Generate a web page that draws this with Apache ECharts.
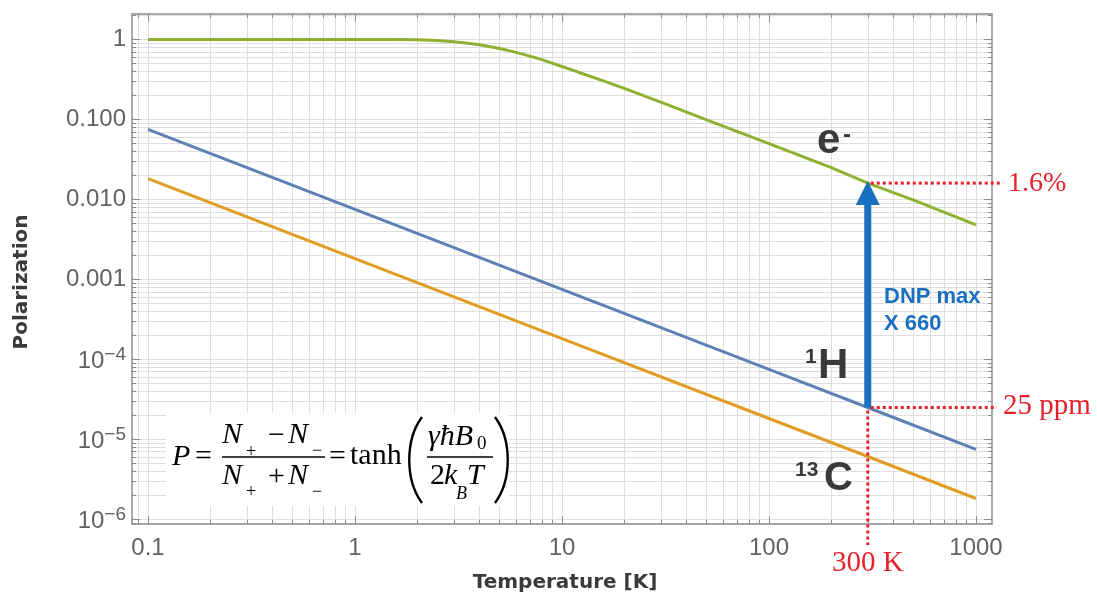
<!DOCTYPE html>
<html>
<head>
<meta charset="utf-8">
<script src="https://cdn.jsdelivr.net/npm/echarts@6/dist/echarts.min.js"></script>
<style>
  html, body { margin: 0; padding: 0; background: #fff; }
  #chart { width: 1097px; height: 603px; }
</style>
</head>
<body>
<div id="chart"></div>
<script>
// Spin polarization vs temperature (log-log), values read as (T [K], P)
const electronT = [0.1, 1, 1.5, 2, 2.5, 3, 3.5, 4, 5, 6, 7, 8, 10, 12, 15, 20, 30, 50, 100, 200, 300, 500, 1000];
const electronP = [1, 1, 0.998, 0.99, 0.97, 0.94, 0.9, 0.86, 0.77, 0.69, 0.62, 0.56, 0.46, 0.39, 0.32, 0.245, 0.165, 0.099, 0.05, 0.025, 0.016, 0.0098, 0.0048];

const protonT = [0.1, 1, 10, 100, 300, 1000];
const protonP = [0.075, 0.0075, 0.00075, 0.000075, 0.000025, 0.0000075];

const carbonT = [0.1, 1, 10, 100, 300, 1000];
const carbonP = [0.0182, 0.00182, 0.000182, 0.0000182, 0.0000061, 0.00000182];

// Axis ticks
const xTickValues = [0.1, 1, 10, 100, 1000];
const xTickLabels = ['0.1', '1', '10', '100', '1000'];
const yTickValues = [1, 0.1, 0.01, 0.001, 1e-4, 1e-5, 1e-6];
const yTickLabels = ['1', '0.100', '0.010', '0.001', '10|−4', '10|−5', '10|−6'];

// Annotated operating point
const roomT = 300;
const electronRoom = 0.016;   // 1.6%
const protonRoom = 25e-6;     // 25 ppm

const LOG = Math.log10;
const X_MIN = -1.0773, X_MAX = 3.0773;
const Y_MIN = -6.059, Y_MAX = 0.319;

function decades(lo, hi, min, max) {
  const out = [];
  for (let n = lo; n <= hi; n++) {
    for (let k = 1; k <= 9; k++) {
      const v = n + LOG(k);
      if (v >= min && v <= max) out.push(v);
    }
  }
  return out;
}
const xAll = decades(-2, 3, X_MIN, X_MAX);
const yAll = decades(-7, 0, Y_MIN, Y_MAX);
const xMajor = xTickValues.map(LOG);
const yMajor = yTickValues.map(LOG);

function pairs(ts, ps) { return ts.map((t, i) => [LOG(t), LOG(ps[i])]); }

const FRAME = '#8c8c8c';
const TICK = '#8c8c8c';
const GRIDC = '#dedede';
const LABELC = '#626262';
const SANS = 'Liberation Sans, Arial, sans-serif';
const SERIF = 'Liberation Serif, Times New Roman, serif';

function xAxisDef(pos, vals, len, withLine, withLabels, withSplit) {
  return {
    type: 'value', min: X_MIN, max: X_MAX, position: pos,
    axisLine: { show: withLine, onZero: false, lineStyle: { color: FRAME, width: 1.5 } },
    axisTick: { show: true, inside: true, length: len, customValues: vals, lineStyle: { color: TICK, width: 1 } },
    axisLabel: withLabels ? {
      show: true, customValues: xMajor, margin: 12, color: LABELC, fontSize: 24, fontFamily: SANS,
      formatter: v => xTickLabels[xMajor.findIndex(m => Math.abs(m - v) < 1e-6)]
    } : { show: false },
    splitLine: { show: withSplit, lineStyle: { color: GRIDC, width: 1 } }
  };
}
function yAxisDef(pos, vals, len, withLine, withLabels, withSplit) {
  return {
    type: 'value', min: Y_MIN, max: Y_MAX, position: pos,
    axisLine: { show: withLine, onZero: false, lineStyle: { color: FRAME, width: 1.5 } },
    axisTick: { show: true, inside: true, length: len, customValues: vals, lineStyle: { color: TICK, width: 1 } },
    axisLabel: withLabels ? {
      show: true, customValues: yMajor, margin: 6, color: LABELC, fontSize: 24, fontFamily: SANS,
      formatter: v => {
        const s = yTickLabels[yMajor.findIndex(m => Math.abs(m - v) < 1e-6)];
        if (s.indexOf('|') < 0) return s;
        const p = s.split('|');
        return '{b|' + p[0] + '}{s|' + p[1] + '}';
      },
      rich: {
        b: { fontSize: 24, color: LABELC, fontFamily: SANS, verticalAlign: 'bottom' },
        s: { fontSize: 19, color: LABELC, fontFamily: SANS, verticalAlign: 'bottom', padding: [0, 0, 10, 0] }
      }
    } : { show: false },
    splitLine: { show: withSplit, lineStyle: { color: GRIDC, width: 1 } }
  };
}

const chart = echarts.init(document.getElementById('chart'), null, { renderer: 'canvas' });

chart.setOption({
  animation: false,
  backgroundColor: '#fff',
  grid: { left: 132, right: 105, top: 14, bottom: 79, containLabel: false },
  xAxis: [
    xAxisDef('bottom', xAll, 4, true, true, true),
    xAxisDef('bottom', xMajor, 8, false, false, false),
    xAxisDef('top', xAll, 4, true, false, false),
    xAxisDef('top', xMajor, 8, false, false, false)
  ],
  yAxis: [
    yAxisDef('left', yAll, 4, true, true, true),
    yAxisDef('left', yMajor, 8, false, false, false),
    yAxisDef('right', yAll, 4, true, false, false),
    yAxisDef('right', yMajor, 8, false, false, false)
  ],
  series: [
    { name: 'e-', type: 'line', data: pairs(electronT, electronP), showSymbol: false,
      lineStyle: { color: '#8FB032', width: 3 }, z: 3 },
    { name: '1H', type: 'line', data: pairs(protonT, protonP), showSymbol: false,
      lineStyle: { color: '#5E81B5', width: 3 }, z: 3 },
    { name: '13C', type: 'line', data: pairs(carbonT, carbonP), showSymbol: false,
      lineStyle: { color: '#E19C24', width: 3 }, z: 3 }
  ]
});

// Pixel position of a (T, P) point through the chart's axes
function px(T, P) { return chart.convertToPixel({ gridIndex: 0 }, [LOG(T), LOG(P)]); }

const tip = px(roomT, electronRoom);
const base = px(roomT, protonRoom);
const plotRight = chart.getWidth() - 105;
const plotBottom = chart.getHeight() - 79;

const RED = '#e8202a';
const BLUE = '#1a6fbf';
const DARK = '#3a3a3a';

function t(text, x, y, opts) {
  return Object.assign({
    type: 'text', x: x, y: y, z: 20,
    style: Object.assign({ text: text, fill: '#000', font: '30px ' + SERIF, align: 'left', verticalAlign: 'middle' }, opts || {})
  });
}

const graphics = [];

// Formula panel
graphics.push({ type: 'rect', z: 10, shape: { x: 166, y: 413, width: 343, height: 93 }, style: { fill: '#fff' } });
graphics.push(t('P', 172, 457, { font: 'italic 30px ' + SERIF }));
graphics.push(t('=', 195, 457, { font: '30px ' + SERIF }));
graphics.push({ type: 'line', z: 20, shape: { x1: 222, y1: 457, x2: 325, y2: 457 }, style: { stroke: '#000', lineWidth: 1.4 } });
graphics.push(t('N', 222, 435, { font: 'italic 30px ' + SERIF }));
graphics.push(t('+', 246, 452, { font: '18px ' + SERIF }));
graphics.push(t('−', 268, 436, { font: '30px ' + SERIF }));
graphics.push(t('N', 288, 435, { font: 'italic 30px ' + SERIF }));
graphics.push(t('−', 312, 451, { font: '18px ' + SERIF }));
graphics.push(t('N', 222, 476, { font: 'italic 30px ' + SERIF }));
graphics.push(t('+', 246, 492, { font: '18px ' + SERIF }));
graphics.push(t('+', 268, 477, { font: '30px ' + SERIF }));
graphics.push(t('N', 288, 476, { font: 'italic 30px ' + SERIF }));
graphics.push(t('−', 312, 492, { font: '18px ' + SERIF }));
graphics.push(t('=', 329, 457, { font: '30px ' + SERIF }));
graphics.push(t('tanh', 350, 456, { font: '30px ' + SERIF }));
graphics.push({ type: 'bezierCurve', z: 20, shape: { x1: 422, y1: 417, cpx1: 405, cpy1: 440, cpx2: 405, cpy2: 480, x2: 422, y2: 503 },
  style: { stroke: '#000', lineWidth: 2.4, fill: null } });
graphics.push(t('γħB', 428, 437, { font: 'italic 30px ' + SERIF }));
graphics.push(t('0', 477, 444, { font: '19px ' + SERIF }));
graphics.push({ type: 'line', z: 20, shape: { x1: 427, y1: 457, x2: 493, y2: 457 }, style: { stroke: '#000', lineWidth: 1.4 } });
graphics.push(t('2', 430, 476, { font: '30px ' + SERIF }));
graphics.push(t('k', 444, 476, { font: 'italic 30px ' + SERIF }));
graphics.push(t('B', 456, 494, { font: 'italic 18px ' + SERIF }));
graphics.push(t('T', 467, 476, { font: 'italic 30px ' + SERIF }));
graphics.push({ type: 'bezierCurve', z: 20, shape: { x1: 495, y1: 417, cpx1: 512, cpy1: 440, cpx2: 512, cpy2: 480, x2: 495, y2: 503 },
  style: { stroke: '#000', lineWidth: 2.4, fill: null } });

// Reference lines at room temperature
const dotted = { stroke: RED, lineWidth: 3, lineDash: [3, 3] };
graphics.push({ type: 'line', z: 9, shape: { x1: tip[0] + 3, y1: tip[1], x2: plotRight + 11, y2: tip[1] }, style: dotted });
graphics.push({ type: 'line', z: 9, shape: { x1: base[0] + 3, y1: base[1], x2: plotRight + 5, y2: base[1] }, style: dotted });
graphics.push({ type: 'line', z: 9, shape: { x1: base[0], y1: base[1] + 3, x2: base[0], y2: plotBottom + 21 }, style: dotted });
graphics.push(t('1.6%', plotRight + 16, tip[1] + 1, { fill: RED, font: '28px ' + SERIF }));
graphics.push(t('25 ppm', plotRight + 11, base[1] - 1, { fill: RED, font: '29px ' + SERIF }));
graphics.push(t('300 K', base[0], plotBottom + 39, { fill: RED, font: '29px ' + SERIF, align: 'center' }));

// DNP enhancement arrow
graphics.push({ type: 'rect', z: 12, shape: { x: tip[0] - 3.5, y: tip[1] + 18, width: 7, height: base[1] - tip[1] - 18 }, style: { fill: BLUE } });
graphics.push({ type: 'polygon', z: 12, shape: { points: [[tip[0], tip[1] - 2], [tip[0] - 12, tip[1] + 22], [tip[0] + 12, tip[1] + 22]] }, style: { fill: BLUE } });
graphics.push(t('DNP max', 884, 297, { fill: BLUE, font: 'bold 22px ' + SANS }));
graphics.push(t('X 660', 884, 324, { fill: BLUE, font: 'bold 22px ' + SANS }));

// Curve labels
graphics.push(t('e', 817, 141, { fill: DARK, font: 'bold 42px ' + SANS }));
graphics.push(t('-', 843, 135, { fill: DARK, font: 'bold 24px ' + SANS }));
graphics.push(t('1', 805, 357, { fill: DARK, font: 'bold 21px ' + SANS }));
graphics.push(t('H', 818, 366, { fill: DARK, font: 'bold 42px ' + SANS }));
graphics.push(t('13', 795, 470, { fill: DARK, font: 'bold 21px ' + SANS }));
graphics.push(t('C', 824, 479, { fill: DARK, font: 'bold 40px ' + SANS }));

// Axis titles
graphics.push(t('Polarization', 22, 282, { fill: DARK, font: 'bold 20px DejaVu Sans, sans-serif', align: 'center' }));
graphics[graphics.length - 1].rotation = Math.PI / 2;
graphics.push(t('Temperature [K]', 565, 583, { fill: DARK, font: 'bold 20px DejaVu Sans, sans-serif', align: 'center' }));

chart.setOption({ graphic: { elements: graphics } });
</script>
</body>
</html>
